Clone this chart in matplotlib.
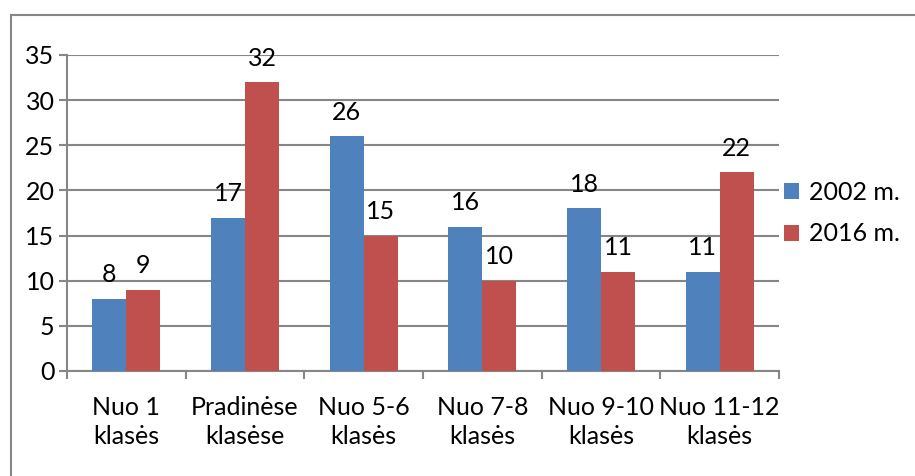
import matplotlib
matplotlib.use("Agg")
from matplotlib import pyplot as plt
from matplotlib.lines import Line2D
import numpy as np

# Duomenys
kategorijos = ["Nuo 1\nklasės", "Pradinėse\nklasėse", "Nuo 5-6\nklasės",
               "Nuo 7-8\nklasės", "Nuo 9-10\nklasės", "Nuo 11-12\nklasės"]
serija_2002 = [8, 17, 26, 16, 18, 11]
serija_2016 = [9, 32, 15, 10, 11, 22]
pavadinimai = ["2002 m.", "2016 m."]

spalvos = ["#4F81BD", "#C0504D"]
pilka = "#868686"

plt.rcParams["font.family"] = ["Lato", "DejaVu Sans"]
fs = 18

fig = plt.figure(figsize=(9.15, 4.76), dpi=100)
ax = fig.add_axes([67 / 915, 1 - 371 / 476, (779 - 67) / 915, (371 - 55) / 476])

x = np.arange(len(kategorijos))
w = 0.286
b1 = ax.bar(x - w / 2, serija_2002, w, color=spalvos[0], label=pavadinimai[0], zorder=3)
b2 = ax.bar(x + w / 2, serija_2016, w, color=spalvos[1], label=pavadinimai[1], zorder=3)

for bars, vals in ((b1, serija_2002), (b2, serija_2016)):
    for r, v in zip(bars, vals):
        ax.annotate(str(v), (r.get_x() + r.get_width() / 2, v),
                    xytext=(0, 9), textcoords="offset points",
                    ha="center", va="bottom", fontsize=fs)

ax.set_xlim(-0.5, len(kategorijos) - 0.5)
ax.set_ylim(0, 35)
ax.set_yticks(range(0, 36, 5))
ax.yaxis.grid(True, color=pilka, linewidth=1.5, zorder=0)
ax.set_axisbelow(True)

ax.set_xticks(x)
ax.set_xticklabels(kategorijos, fontsize=fs, linespacing=1.3)
ax.set_xticks(np.arange(-0.5, len(kategorijos)), minor=True)
ax.tick_params(axis="x", which="major", length=0, pad=18)
ax.tick_params(axis="x", which="minor", length=6, width=1.5, color=pilka)
ax.tick_params(axis="y", length=6, width=1.5, color=pilka, labelsize=fs, pad=3)

for s in ("top", "right"):
    ax.spines[s].set_visible(False)
for s in ("left", "bottom"):
    ax.spines[s].set_color(pilka)
    ax.spines[s].set_linewidth(1.5)

ax.legend(loc="center left", bbox_to_anchor=(1.0, 0.5), frameon=False,
          fontsize=fs, handlelength=0.6, handleheight=0.6, handletextpad=0.4,
          labelspacing=0.75, borderaxespad=0.0, borderpad=0.2)

# Rėmelis aplink diagramą
fig.add_artist(Line2D([11 / 915, 11 / 915], [0, 1 - 15 / 476], color=pilka, linewidth=1.5))
fig.add_artist(Line2D([11 / 915, 1], [1 - 15 / 476, 1 - 15 / 476], color=pilka, linewidth=1.5))

fig.savefig("out.png", dpi=100)
